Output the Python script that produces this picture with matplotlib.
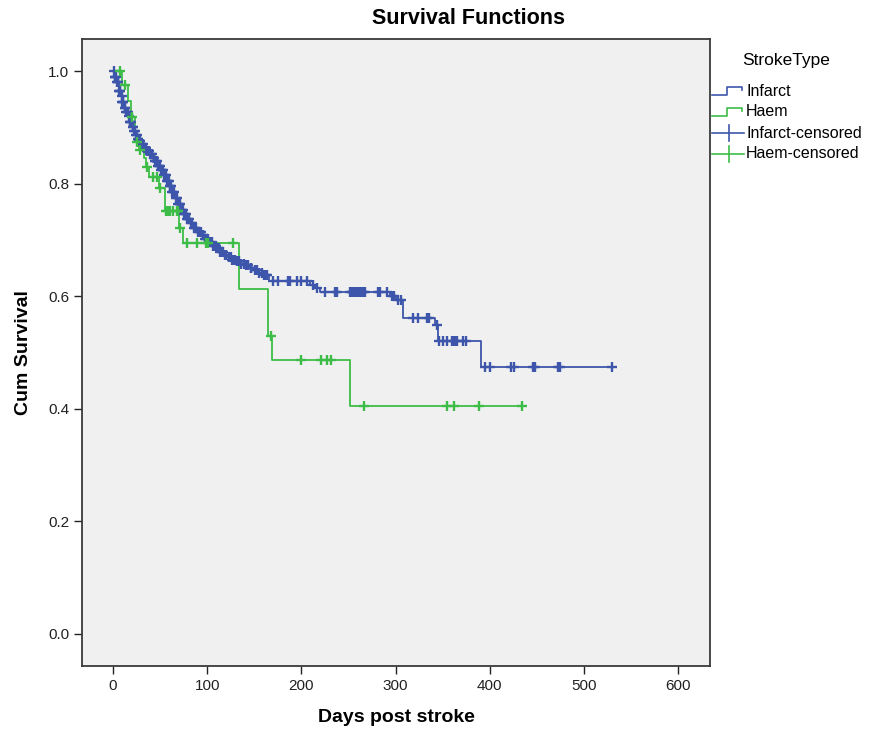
import numpy as np
import matplotlib
matplotlib.use("Agg")
import matplotlib.pyplot as plt

plt.rcParams['font.family'] = ['Liberation Sans', 'DejaVu Sans']

# Infarct: event times (days) and survival after each step
inf_t = [0, 2, 4, 6, 8, 10, 12, 14, 16, 18, 20, 22, 24, 26, 28, 30, 33, 36, 39, 42,
         45, 48, 51, 54, 57, 60, 63, 66, 69, 72, 75, 78, 82, 86, 90, 94, 98, 102, 106,
         110, 114, 118, 122, 126, 130, 135, 140, 145, 150, 155, 160, 166, 209, 214.5,
         220, 294, 300, 307.6, 342, 345.5, 390.5]
inf_s = [1.0, 0.99, 0.98, 0.965, 0.955, 0.945, 0.935, 0.928, 0.92, 0.91, 0.90, 0.893,
         0.886, 0.88, 0.875, 0.87, 0.864, 0.858, 0.852, 0.846, 0.84, 0.832, 0.825, 0.815,
         0.805, 0.795, 0.785, 0.775, 0.764, 0.754, 0.746, 0.738, 0.73, 0.722, 0.714,
         0.708, 0.702, 0.696, 0.69, 0.685, 0.679, 0.674, 0.669, 0.665, 0.662, 0.658,
         0.655, 0.65, 0.646, 0.642, 0.638, 0.6275, 0.620, 0.614, 0.608, 0.600, 0.593,
         0.561, 0.549, 0.521, 0.474]
inf_cens = [1, 2, 2.5, 3, 4, 5, 5.5, 6, 7, 7.5, 9, 10, 10.5, 11, 12.5, 13, 14, 15, 15.5,
            17, 18, 18.5, 19, 21, 21.5, 22, 23, 24, 25, 26, 27, 28, 29, 30, 31, 32, 33,
            34, 35, 36, 37, 38, 39, 40, 41, 43, 44, 45, 46, 47, 48, 49, 50, 51, 52, 53,
            54, 55, 56, 57, 58, 59, 60, 61, 62, 63, 64, 65, 67, 68, 69, 70, 71, 72, 73,
            74, 75, 76, 77, 79, 80, 81, 83, 84, 86, 87, 88, 90, 91, 93, 95, 96, 98, 99,
            101, 103, 105, 106, 108, 109, 111, 113, 114, 116, 117, 119, 120, 123, 125,
            126, 128, 129, 132, 134, 136, 139, 141, 143, 146, 147, 151, 153, 155, 158,
            160, 162, 164, 170, 175.5, 186, 188, 195, 200, 206, 212, 217, 225, 236,
            238, 251.6, 253.5, 255, 257, 258.7, 260.5, 262, 264, 265.7, 267.6, 281.7,
            283.5, 290.6, 296, 298, 303, 305.5, 319, 324, 333, 336, 344, 346.6, 350,
            354.4, 359.7, 362, 364, 365.8, 372, 375, 395, 400, 422.7, 426, 445.8, 448,
            472.4, 474.8, 530.4]

# Haem
haem_t = [0, 10, 16, 19, 23, 25, 28, 33, 35, 38, 49, 55, 70, 74.5, 134, 165, 168.4, 252]
haem_s = [1.0, 0.975, 0.947, 0.919, 0.89, 0.874, 0.86, 0.845, 0.83, 0.812, 0.792,
          0.751, 0.722, 0.694, 0.612, 0.53, 0.486, 0.405]
haem_cens = [7, 12.5, 19.7, 25, 28.5, 35.6, 42, 47, 49.7, 56, 58.6, 60, 64, 67.5, 69,
             71, 78, 88.7, 99, 101, 127.6, 167.4, 199.6, 220.5, 226.9, 231.5, 266.5,
             355, 362, 389, 434.8]

blue = '#3d56ab'
green = '#3dbd47'

fig = plt.figure(figsize=(8.74, 7.42), dpi=100)
ax = fig.add_axes([0.0938, 0.1024, 0.7186, 0.845])
ax.set_facecolor('#f0f0f0')


def km(ax, t, s, cens, col):
    t = np.array(t, float)
    s = np.array(s, float)
    cens = np.array(cens, float)
    tt = np.append(t, cens.max())
    ss = np.append(s, s[-1])
    ax.step(tt, ss, where='post', color=col, lw=1.3, zorder=2)
    idx = np.searchsorted(t, cens, side='right') - 1
    ax.plot(cens, s[idx], ls='none', marker='+', ms=7.5, mew=1.7, color=col, zorder=3)


km(ax, inf_t, inf_s, inf_cens, blue)
km(ax, haem_t, haem_s, haem_cens, green)

ax.set_xlim(-33, 634)
ax.set_ylim(-0.057, 1.057)
ax.set_xticks(range(0, 601, 100))
ax.set_yticks([0.0, 0.2, 0.4, 0.6, 0.8, 1.0])
ax.set_yticklabels(['0.0', '0.2', '0.4', '0.6', '0.8', '1.0'])
ax.tick_params(direction='out', length=6, width=1, labelsize=11, pad=3, colors='#222222')
for sp in ax.spines.values():
    sp.set_color('#3a3a3a')
    sp.set_linewidth(1.3)

ax.set_xlabel('Days post stroke', fontsize=14, fontweight='bold', labelpad=12)
ax.set_ylabel('Cum Survival', fontsize=14, fontweight='bold', labelpad=12)
fig.text(469 / 874, 1 - 18 / 742, 'Survival Functions', fontsize=15.5,
         fontweight='bold', ha='center', va='center')

# legend drawn in pixel space
lax = fig.add_axes([0, 0, 1, 1])
lax.set_xlim(0, 874)
lax.set_ylim(742, 0)
lax.axis('off')
lax.patch.set_alpha(0)
lax.text(742, 60, 'StrokeType', fontsize=12.5, va='center', ha='left')
names = ['Infarct', 'Haem', 'Infarct-censored', 'Haem-censored']
cols = [blue, green, blue, green]
for i, (nm, c) in enumerate(zip(names, cols)):
    y = 91 + i * 21
    if i < 2:
        lax.plot([712, 727, 727, 742, 742], [y + 4, y + 4, y - 4, y - 4, y - 1],
                 color=c, lw=1.2)
    else:
        lax.plot([712, 744], [y, y], color=c, lw=1.2)
        lax.plot([729, 729], [y - 8, y + 8], color=c, lw=1.2)
    lax.text(746, y, nm, fontsize=11.5, va='center', ha='left')

fig.savefig('out.png', dpi=100)
